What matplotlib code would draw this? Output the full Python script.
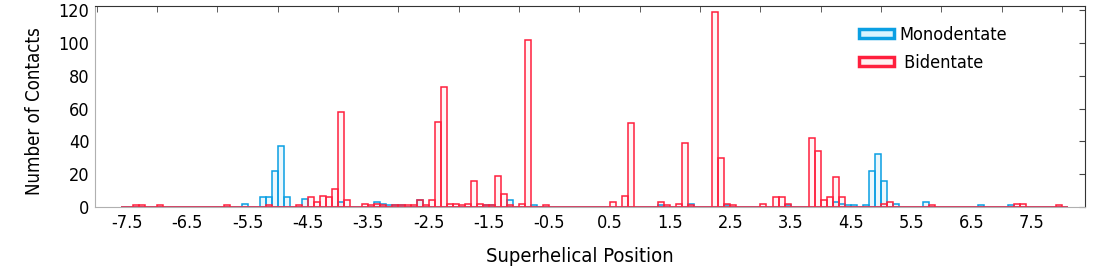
import numpy as np
import matplotlib
matplotlib.use("Agg")
import matplotlib.pyplot as plt
from matplotlib.patches import Patch
from matplotlib.ticker import MultipleLocator, FixedLocator

# === Datos (centro de cada intervalo de 0.1, cantidad de contactos) ===
mono_pos = [-5.55, -5.25, -5.15, -5.05, -4.95, -4.85, -4.55, -3.95, -3.35, -3.25,
            -3.15, -3.05, -2.95, -2.65, -1.55, -1.45, -1.15, -0.75, 1.35, 1.85,
            2.45, 3.45, 4.25, 4.35, 4.45, 4.55, 4.75, 4.85, 4.95, 5.05,
            5.25, 5.75, 6.65, 7.15]
mono_counts = [2, 6, 6, 22, 37, 6, 5, 3, 3, 2,
               1, 1, 1, 4, 1, 1, 4, 1, 1, 2,
               1, 1, 3, 2, 1, 1, 1, 22, 32, 16,
               2, 3, 1, 1]

bi_pos = [-7.35, -7.25, -6.95, -5.85, -5.15, -4.65, -4.45, -4.35, -4.25, -4.15,
          -4.05, -3.95, -3.85, -3.55, -3.45, -3.35, -3.25, -3.05, -2.95, -2.85,
          -2.75, -2.65, -2.55, -2.45, -2.35, -2.25, -2.15, -2.05, -1.95, -1.85,
          -1.75, -1.65, -1.55, -1.45, -1.35, -1.25, -1.15, -0.95, -0.85, -0.55,
          0.55, 0.75, 0.85, 1.35, 1.45, 1.65, 1.75, 1.85, 2.25, 2.35,
          2.45, 2.55, 3.05, 3.25, 3.35, 3.45, 3.85, 3.95, 4.05, 4.15,
          4.25, 4.35, 5.05, 5.15, 5.85, 7.25, 7.35, 7.95]
bi_counts = [1, 1, 1, 1, 1, 1, 6, 3, 7, 6,
             11, 58, 4, 2, 1, 2, 1, 1, 1, 1,
             1, 4, 1, 4, 52, 73, 2, 2, 1, 2,
             16, 2, 1, 1, 19, 8, 1, 2, 102, 1,
             3, 7, 51, 3, 1, 2, 39, 1, 119, 30,
             2, 1, 2, 6, 6, 2, 42, 34, 4, 6,
             18, 6, 2, 3, 1, 2, 2, 1]

tick_labels = ["-7.5", "-6.5", "-5.5", "-4.5", "-3.5", "-2.5", "-1.5", "-0.5",
               "0.5", "1.5", "2.5", "3.5", "4.5", "5.5", "6.5", "7.5"]

# === Rejilla completa de intervalos (los vacíos dibujan la línea base) ===
bin_w = 0.1
grid = np.round(np.arange(-7.55, 8.06, bin_w), 2)
mono_full = np.zeros(len(grid))
bi_full = np.zeros(len(grid))
for p, c in zip(mono_pos, mono_counts):
    mono_full[np.argmin(np.abs(grid - p))] = c
for p, c in zip(bi_pos, bi_counts):
    bi_full[np.argmin(np.abs(grid - p))] = c

plt.rcParams['font.family'] = ['DejaVu Sans']
plt.rcParams['font.stretch'] = 'condensed'

blue = "#0a9fe3"
red = "#ff1f3d"

fig = plt.figure(figsize=(10.96, 2.69), dpi=100)
ax = fig.add_axes([0.0867, 0.2305, 0.9033, 0.7472])

ax.bar(grid, mono_full, width=bin_w, facecolor=(0.04, 0.62, 0.89, 0.08),
       edgecolor=blue, linewidth=1.1)
ax.bar(grid, bi_full, width=bin_w, facecolor=(1.0, 0.12, 0.24, 0.04),
       edgecolor=red, linewidth=1.1)

ax.set_xlim(-8.03, 8.38)
ax.set_ylim(0, 122.5)

ax.xaxis.set_major_locator(FixedLocator([float(t) for t in tick_labels]))
ax.set_xticklabels(tick_labels)
ax.xaxis.set_minor_locator(MultipleLocator(1.0))
ax.tick_params(axis='x', which='major', length=0, pad=5, labelsize=13)
ax.tick_params(axis='x', which='minor', bottom=False, top=True,
               direction='in', length=4, color='#444444')
ax.yaxis.set_major_locator(MultipleLocator(20))
ax.tick_params(axis='y', left=False, right=True, direction='in', length=4,
               color='#444444', labelsize=13, pad=4)

for side in ['left', 'bottom']:
    ax.spines[side].set_color('#b0b0b0')
for side in ['top', 'right']:
    ax.spines[side].set_color('#333333')

ax.set_xlabel("Superhelical Position", fontsize=14.5)
ax.set_ylabel("Number of Contacts", fontsize=13.4)
ax.xaxis.set_label_coords(0.49, -0.198)
ax.yaxis.set_label_coords(-0.052, 0.478)

handles = [Patch(facecolor='#d8f4ff', edgecolor=blue, linewidth=2.5, label="Monodentate"),
           Patch(facecolor='#fff0f2', edgecolor=red, linewidth=2.5, label=" Bidentate")]
ax.legend(handles=handles, loc='upper left', bbox_to_anchor=(0.755, 0.98),
          frameon=False, fontsize=13, handlelength=1.95, handleheight=0.4,
          handletextpad=0.3, labelspacing=0.55)

fig.savefig("out.png", dpi=100)
